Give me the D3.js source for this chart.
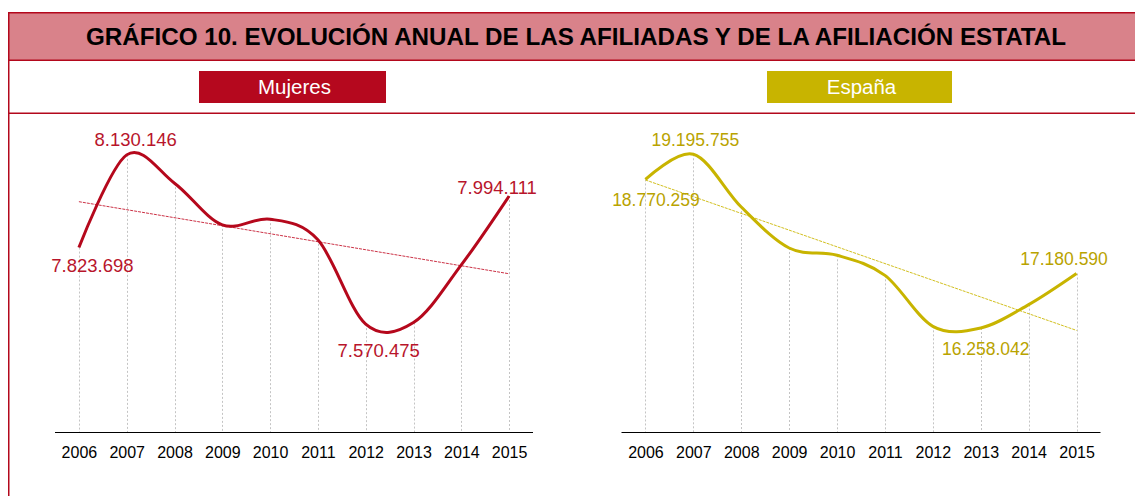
<!DOCTYPE html>
<html>
<head>
<meta charset="utf-8">
<script src="https://cdn.jsdelivr.net/npm/d3@7"></script>
<style>
  body { margin: 0; background: #fff; }
  text { font-family: "Liberation Sans", Arial, sans-serif; }
</style>
</head>
<body>
<div id="chart"></div>
<script>
// Data (afiliación media anual)
var years = ["2006", "2007", "2008", "2009", "2010", "2011", "2012", "2013", "2014", "2015"];
var mujeres = [7823698, 8130146, 8036600, 7898700, 7917600, 7849200, 7570475, 7575800, 7766500, 7994111];
var espana = [18770259, 19195755, 18304000, 17611000, 17488000, 17149000, 16287000, 16258042, 16654000, 17180590];

// which points carry a value label
var mujeresLabelIdx = [0, 1, 6, 9];
var espanaLabelIdx = [0, 1, 7, 9];

var width = 1135;
var height = 496;

var red = "#b3081c";
var pink = "#d9828a";
var gold = "#c8b400";

var svg = d3.select("#chart")
  .append("svg")
  .attr("width", width)
  .attr("height", height);

// Spanish number format 7.823.698
var es = d3.formatLocale({decimal: ",", thousands: ".", grouping: [3], currency: ["", " €"]});
var fmt = es.format(",d");

// Frame and title band
svg.append("rect")
  .attr("x", 8.75).attr("y", 12.75)
  .attr("width", width).attr("height", 47.75)
  .attr("fill", pink);

var frame = svg.append("g").attr("stroke", red).attr("stroke-width", 1.5);
frame.append("line").attr("x1", 8).attr("x2", width).attr("y1", 12.75).attr("y2", 12.75);
frame.append("line").attr("x1", 8).attr("x2", width).attr("y1", 60.25).attr("y2", 60.25);
frame.append("line").attr("x1", 8).attr("x2", width).attr("y1", 113.25).attr("y2", 113.25);
frame.append("line").attr("x1", 8.75).attr("x2", 8.75).attr("y1", 12).attr("y2", height);

svg.append("text")
  .attr("x", 576).attr("y", 45)
  .attr("text-anchor", "middle")
  .attr("font-size", 24.2)
  .attr("font-weight", "bold")
  .attr("fill", "#000")
  .text("GRÁFICO 10. EVOLUCIÓN ANUAL DE LAS AFILIADAS Y DE LA AFILIACIÓN ESTATAL");

// Legend boxes
function legendBox(x, w, color, label) {
  svg.append("rect")
    .attr("x", x).attr("y", 71)
    .attr("width", w).attr("height", 32)
    .attr("fill", color);
  svg.append("text")
    .attr("x", x + w / 2 + 2).attr("y", 93.5)
    .attr("text-anchor", "middle")
    .attr("font-size", 20.5)
    .attr("fill", "#fff")
    .text(label);
}
legendBox(199, 187, "#b5081e", "Mujeres");
legendBox(767, 185, gold, "España");

// least squares trend over the year index
function trend(values) {
  var n = values.length;
  var mx = (n - 1) / 2;
  var my = d3.mean(values);
  var sxy = d3.sum(values, (v, i) => (i - mx) * (v - my));
  var sxx = d3.sum(values, (v, i) => (i - mx) * (i - mx));
  var b = sxy / sxx;
  return [my - b * mx, my + b * (n - 1 - mx)];
}

function drawPanel(cfg) {
  var x = d3.scalePoint()
    .domain(years)
    .range(cfg.xRange)
    .padding(0.5);

  var y = d3.scaleLinear()
    .domain(cfg.yDomain)
    .range(cfg.yRange);

  var baseY = 432;
  var g = svg.append("g");

  // drop lines
  g.append("g")
    .attr("stroke", "#c4c4c4")
    .attr("stroke-width", 1)
    .attr("stroke-dasharray", "2,2")
    .selectAll("line")
    .data(cfg.values)
    .join("line")
    .attr("x1", (d, i) => Math.round(x(years[i])) + 0.5)
    .attr("x2", (d, i) => Math.round(x(years[i])) + 0.5)
    .attr("y1", d => y(d))
    .attr("y2", baseY);

  // category axis
  var axis = g.append("g")
    .attr("transform", "translate(0," + (baseY + 0.5) + ")")
    .call(d3.axisBottom(x).tickSize(0).tickPadding(14));
  axis.select(".domain")
    .attr("d", "M" + cfg.xRange[0] + ",0H" + cfg.xRange[1])
    .attr("stroke", "#000");
  axis.selectAll("text")
    .attr("font-size", 16)
    .attr("fill", "#000")
    .attr("font-family", "'Liberation Sans', Arial, sans-serif");

  // trendline
  var t = trend(cfg.values);
  g.append("line")
    .attr("x1", x(years[0]))
    .attr("x2", x(years[years.length - 1]))
    .attr("y1", y(t[0]))
    .attr("y2", y(t[1]))
    .attr("stroke", cfg.trendColor)
    .attr("stroke-width", 1)
    .attr("stroke-dasharray", "3,1");

  // smoothed line
  var line = d3.line()
    .x((d, i) => x(years[i]))
    .y(d => y(d))
    .curve(d3.curveCardinal.tension(0));

  g.append("path")
    .datum(cfg.values)
    .attr("fill", "none")
    .attr("stroke", cfg.color)
    .attr("stroke-width", 3)
    .attr("stroke-linejoin", "round")
    .attr("d", line);

  // value labels
  g.append("g")
    .attr("font-size", cfg.labelSize)
    .attr("fill", cfg.labelColor)
    .attr("text-anchor", "middle")
    .selectAll("text")
    .data(cfg.labels)
    .join("text")
    .attr("x", (d, k) => x(years[d]) + cfg.labelOffsets[k][0])
    .attr("y", (d, k) => y(cfg.values[d]) + cfg.labelOffsets[k][1])
    .text(d => fmt(cfg.values[d]));
}

drawPanel({
  values: mujeres,
  labels: mujeresLabelIdx,
  labelOffsets: [[13.5, 24], [9, -8.5], [13, 33], [-12, -2]],
  xRange: [55, 533],
  yDomain: [7214000, 8300000],
  yRange: [432, 103.5],
  color: "#b5081c",
  trendColor: "#cc3347",
  labelColor: "#b8152b",
  labelSize: 18.5
});

drawPanel({
  values: espana,
  labels: espanaLabelIdx,
  labelOffsets: [[10.5, 27], [2, -8], [5, 27], [-12.5, -8]],
  xRange: [621.5, 1100.5],
  yDomain: [14500000, 19600000],
  yRange: [432, 130.4],
  color: gold,
  trendColor: "#d2c020",
  labelColor: "#b9a300",
  labelSize: 17.5
});
</script>
</body>
</html>
